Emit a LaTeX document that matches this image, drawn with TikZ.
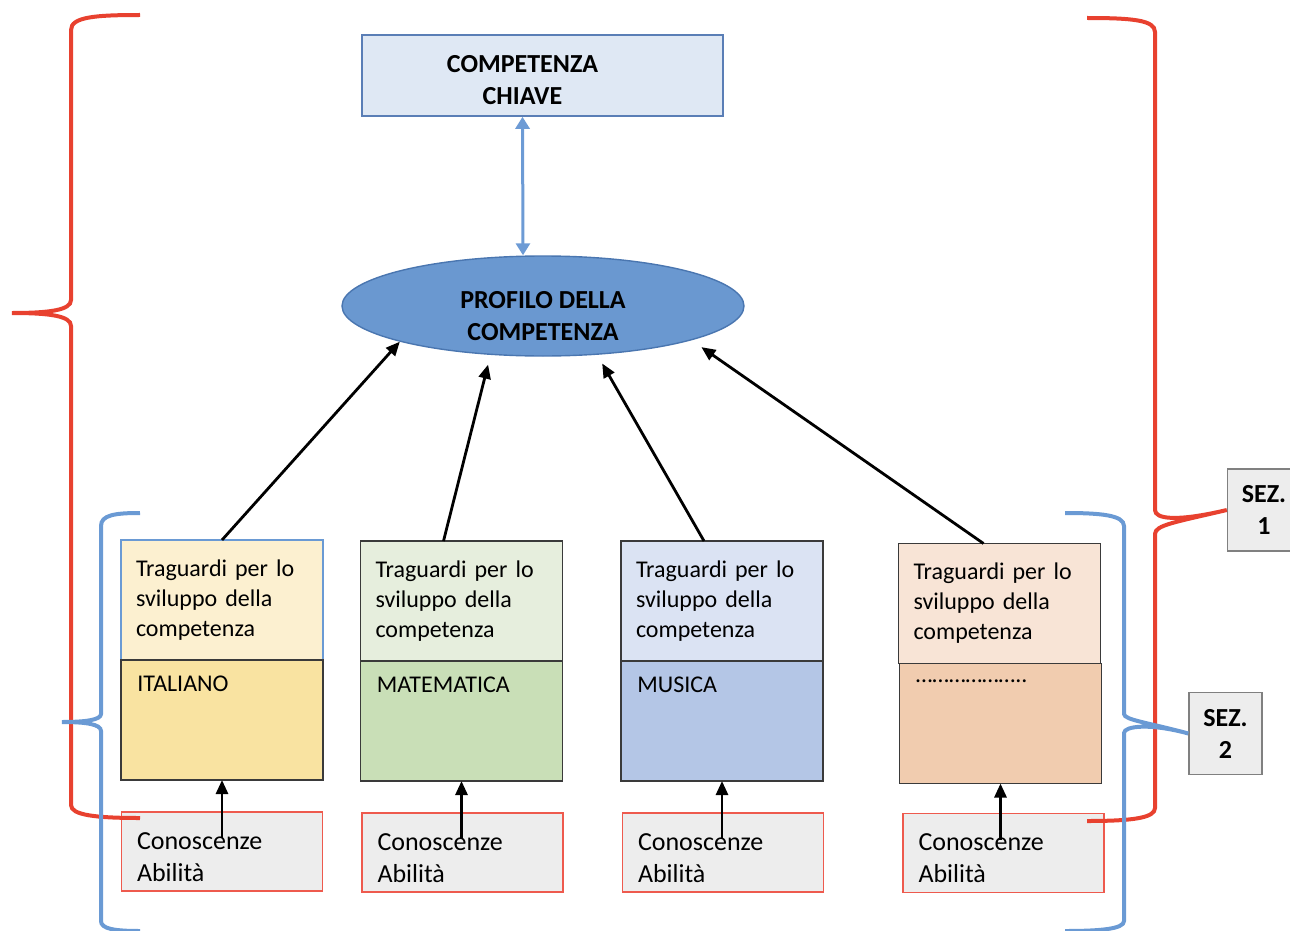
\documentclass[tikz,border=0pt]{standalone}
\usepackage{fontspec}
\setmainfont{Carlito}
\usetikzlibrary{positioning,shapes.geometric,arrows.meta}

\definecolor{keyfill}{HTML}{DFE8F4}
\definecolor{keyline}{HTML}{5A7EB6}
\definecolor{profilofill}{HTML}{6A98D0}
\definecolor{profiloline}{HTML}{4A76B0}
\definecolor{bluelink}{HTML}{6D9BD5}
\definecolor{bracered}{HTML}{E8412F}
\definecolor{braceblue}{HTML}{6A9AD4}
\definecolor{boxgray}{HTML}{3A3A3A}
\definecolor{conofill}{HTML}{EDEDED}
\definecolor{conoline}{HTML}{EE5A4E}
\definecolor{sezline}{HTML}{808080}
\definecolor{tragA}{HTML}{FCF0D0}
\definecolor{tragB}{HTML}{E6EEDD}
\definecolor{tragC}{HTML}{DBE3F3}
\definecolor{tragD}{HTML}{F8E4D6}
\definecolor{subjA}{HTML}{F9E3A1}
\definecolor{subjB}{HTML}{C9DFB7}
\definecolor{subjC}{HTML}{B4C6E6}
\definecolor{subjD}{HTML}{F1CCAF}

\tikzset{
  box/.style={draw=boxgray, line width=0.8pt, outer sep=0pt, inner sep=0pt,
    minimum width=101pt, minimum height=60pt},
  goal/.style={box, text width=86pt, align=left, font=\fontsize{12}{15}\selectfont},
  subject/.style={box, label={[anchor=north west, inner sep=0pt, xshift=8pt, yshift=-8pt,
    font=\fontsize{12}{15}\selectfont]north west:#1}},
  cono/.style={draw=conoline, line width=0.6pt, fill=conofill, outer sep=0pt, inner sep=0pt,
    minimum width=100.5pt, minimum height=39.5pt, text width=85pt, align=left,
    font=\fontsize{13}{16}\selectfont},
  sez/.style={draw=sezline, line width=0.7pt, fill=conofill, inner sep=0pt,
    minimum width=36.5pt, minimum height=41pt, align=center,
    font=\bfseries\fontsize{13}{16}\selectfont},
  up/.style={-{Triangle[length=7pt,width=6pt]}, line width=1.4pt, black},
  redbrace/.style={draw=bracered, line width=2pt},
  bluebrace/.style={draw=braceblue, line width=2pt},
}

\begin{document}
\begin{tikzpicture}[x=0.5pt, y=-0.5pt]
\useasboundingbox (0,0) rectangle (1290,931);

% top of the scheme
\node[draw=keyline, line width=0.8pt, fill=keyfill, minimum width=180.5pt, minimum height=40.5pt,
  inner sep=0pt, align=center, font=\bfseries\fontsize{13}{16}\selectfont]
  (chiave) at (542.5,75.5) {\rule{0pt}{13pt}COMPETENZA\hspace*{20pt}\\CHIAVE\hspace*{20pt}};
\node[ellipse, draw=profiloline, line width=0.7pt, fill=profilofill, minimum width=201pt,
  minimum height=50pt, inner sep=0pt, align=center, font=\bfseries\fontsize{13}{16}\selectfont]
  (profilo) at (543,306) {\rule{0pt}{19pt}PROFILO DELLA\\COMPETENZA};

% columns
\node[goal, fill=tragA, draw=braceblue] (tragita) at (222,600) {Traguardi per lo\\sviluppo della\\competenza};
\node[goal, fill=tragB] (tragmat) at (461.5,601) {Traguardi per lo\\sviluppo della\\competenza};
\node[goal, fill=tragC] (tragmus) at (722,601) {Traguardi per lo\\sviluppo della\\competenza};
\node[goal, fill=tragD] (tragalt) at (999.5,603.5) {Traguardi per lo\\sviluppo della\\competenza};

\node[subject=ITALIANO, fill=subjA, below=0pt of tragita] (subita) {};
\node[subject=MATEMATICA, fill=subjB, below=0pt of tragmat] (submat) {};
\node[subject=MUSICA, fill=subjC, below=0pt of tragmus] (submus) {};
\node[subject=……………….., fill=subjD, below=0pt of tragalt, xshift=0.5pt] (subalt) {};

\node[cono, below=16pt of subita] (conoita) {\rule{0pt}{14pt}Conoscenze\\Abilità};
\node[cono, below=16pt of submat, xshift=0.5pt] (conomat) {\rule{0pt}{14pt}Conoscenze\\Abilità};
\node[cono, below=16pt of submus, xshift=0.5pt] (conomus) {\rule{0pt}{14pt}Conoscenze\\Abilità};
\node[cono, below=15pt of subalt, xshift=1.5pt] (conoalt) {\rule{0pt}{14pt}Conoscenze\\Abilità};

% sections
\node[sez] (sezuno) at (1264,510) {SEZ.\\1};
\node[sez] (sezdue) at (1225.5,733.5) {SEZ.\\2};

% links
\draw[{Triangle[length=6pt,width=7pt]}-{Triangle[length=6pt,width=7pt]}, bluelink, line width=1.5pt]
  ([xshift=-10pt]chiave.south) -- ([xshift=-10pt]profilo.north);
\draw[up] (tragita.north) -- (profilo.194);
\draw[up, shorten >=5pt] ([xshift=-9pt]tragmat.north) -- (profilo.223);
\draw[up, shorten >=5pt] ([xshift=-9pt]tragmus.north) -- (profilo.318);
\draw[up, shorten >=6pt] ([xshift=-8pt]tragalt.north) -- (profilo.347.5);

\draw[up, shorten <=-13pt] (subita.south |- conoita.north) -- (subita.south);
\draw[up, shorten <=-13pt] (submat.south |- conomat.north) -- (submat.south);
\draw[up, shorten <=-13pt] (submus.south |- conomus.north) -- (submus.south);
\draw[up, shorten <=-13pt] (subalt.south |- conoalt.north) -- (subalt.south);

% braces
\draw[redbrace] (140,15) .. controls (95,15) and (71,17) .. (71,30) -- (71,300)
  .. controls (71,310) and (50,313) .. (12,313) .. controls (50,313) and (71,316) .. (71,326)
  -- (71,805) .. controls (71,815) and (95,818) .. (140,818);
\draw[redbrace] (1087,18) .. controls (1132,18) and (1155,20) .. (1155,32) -- (1155,510)
  .. controls (1155,519) and (1176,522) .. (sezuno.west) .. controls (1176,522) and (1155,525) .. (1155,534)
  -- (1155,808) .. controls (1155,818) and (1132,821) .. (1087,821);
\draw[bluebrace] (140,513) .. controls (115,513) and (101,515) .. (101,526) -- (101,714)
  .. controls (101,720) and (85,722) .. (62,722) .. controls (85,722) and (101,724) .. (101,731)
  -- (101,921) .. controls (101,929) and (115,931) .. (140,931);
\draw[bluebrace] (1065,513) .. controls (1100,513) and (1124,515) .. (1124,526) -- (1124,714)
  .. controls (1124,720) and (1150,723) .. (sezdue.west) .. controls (1150,723) and (1124,726) .. (1124,733)
  -- (1124,921) .. controls (1124,929) and (1100,931) .. (1065,931);
\end{tikzpicture}
\end{document}
